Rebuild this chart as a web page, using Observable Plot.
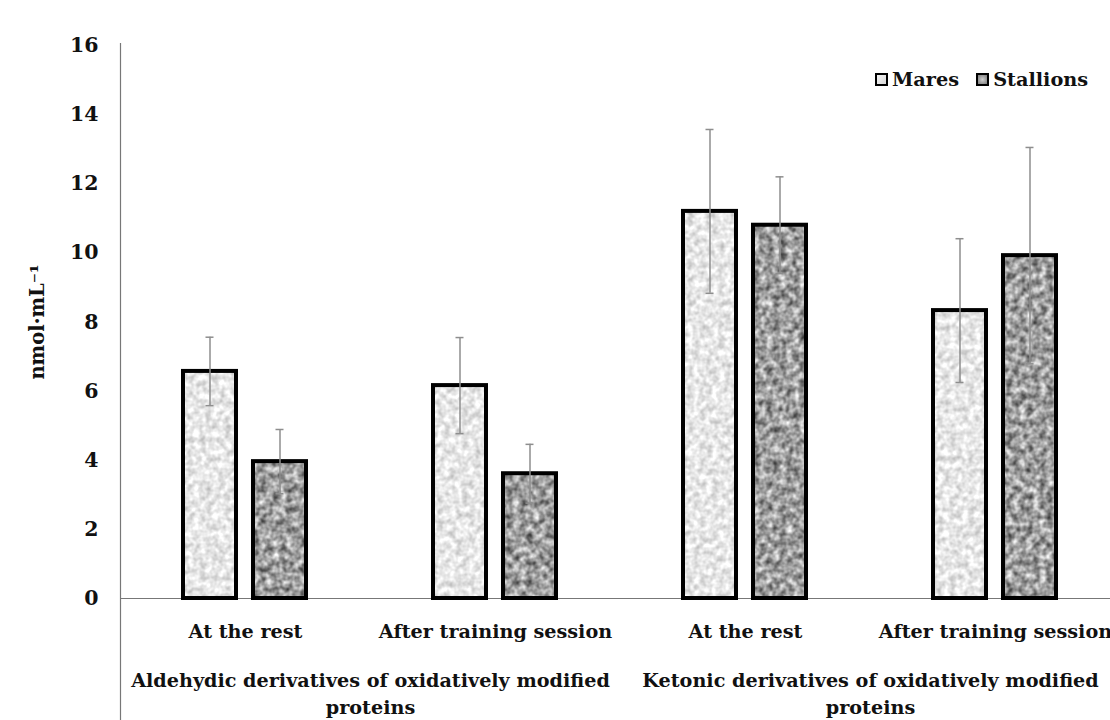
<!DOCTYPE html>
<html>
<head>
<meta charset="utf-8">
<script src="https://cdn.jsdelivr.net/npm/d3@7"></script>
<script src="https://cdn.jsdelivr.net/npm/@observablehq/plot@0.6"></script>
<style>
  body { margin: 0; background: #fff; }
  #wrap { position: relative; width: 1110px; height: 720px; overflow: hidden; background: #fff; }
  #legend { position: absolute; top: 68px; left: 875px; font: bold 19.3px "DejaVu Serif", serif; color: #111;
            display: flex; align-items: center; white-space: nowrap; }
  #legend .item { display: flex; align-items: center; margin-right: 17px; }
  #legend .sw { display: inline-block; width: 9px; height: 9px; border: 2.5px solid #000; margin-right: 4px; }
  #legend .m { background: linear-gradient(135deg, #f4f4f4, #d8d8d8); }
  #legend .s { background: radial-gradient(circle, #d0d0d0, #7a7a7a); }
</style>
</head>
<body>
<svg width="0" height="0" style="position:absolute" aria-hidden="true">
  <defs>
    <filter id="noiseLight" x="0" y="0" width="1" height="1" color-interpolation-filters="sRGB">
      <feTurbulence type="fractalNoise" baseFrequency="0.16" numOctaves="2" seed="4"/>
      <feColorMatrix type="matrix" values="0.45 0 0 0 0.68  0.45 0 0 0 0.68  0.45 0 0 0 0.68  0 0 0 0 1"/>
    </filter>
    <filter id="noiseDark" x="0" y="0" width="1" height="1" color-interpolation-filters="sRGB">
      <feTurbulence type="fractalNoise" baseFrequency="0.15" numOctaves="2" seed="9"/>
      <feColorMatrix type="matrix" values="1.0 0 0 0 0.12  1.0 0 0 0 0.12  1.0 0 0 0 0.12  0 0 0 0 1"/>
    </filter>
    <pattern id="patMares" patternUnits="userSpaceOnUse" x="0" y="0" width="1120" height="720">
      <rect width="1120" height="720" filter="url(#noiseLight)"/>
    </pattern>
    <pattern id="patStallions" patternUnits="userSpaceOnUse" x="0" y="0" width="1120" height="720">
      <rect width="1120" height="720" filter="url(#noiseDark)"/>
    </pattern>
  </defs>
</svg>
<div id="wrap">
  <div id="chart"></div>
  <div id="legend">
    <span class="item"><span class="sw m"></span>Mares</span>
    <span class="item"><span class="sw s"></span>Stallions</span>
  </div>
</div>
<script>
// ---- data ----
const groups = [
  "Aldehydic derivatives of oxidatively modified\nproteins",
  "Ketonic derivatives of oxidatively modified\nproteins"
];
const conditions = ["At the rest", "After training session"];
const seriesNames = ["Mares", "Stallions"];
const maresMean = [6.57, 6.16, 11.2, 8.33];
const maresSD = [0.99, 1.39, 2.37, 2.08];
const stallionsMean = [3.96, 3.61, 10.8, 9.92];
const stallionsSD = [0.93, 0.85, 1.40, 3.13];
const yTicks = [0, 2, 4, 6, 8, 10, 12, 14, 16];
const yLabel = "nmol·mL⁻¹";

// ---- tables ----
const keys = groups.flatMap((g, gi) => conditions.map((c, ci) => `${gi}|${ci}`));
const condOf = k => conditions[+k.split("|")[1]];
const mares = keys.map((k, i) => ({key: k, series: seriesNames[0], value: maresMean[i], sd: maresSD[i]}));
const stallions = keys.map((k, i) => ({key: k, series: seriesNames[1], value: stallionsMean[i], sd: stallionsSD[i]}));
const groupStarts = groups.map((g, gi) => ({key: `${gi}|0`, label: g}));

const errStyle = {stroke: "#8e8e8e", strokeWidth: 1.5};
function errorBars(data, dx, capL, capR) {
  return [
    Plot.ruleX(data, {x: "key", y1: d => d.value - d.sd, y2: d => d.value + d.sd, dx, ...errStyle}),
    Plot.tickY(data, {x: "key", y: d => d.value + d.sd, insetLeft: capL, insetRight: capR, ...errStyle}),
    Plot.tickY(data, {x: "key", y: d => d.value - d.sd, insetLeft: capL, insetRight: capR, ...errStyle})
  ];
}

const chart = Plot.plot({
  width: 1110,
  height: 720,
  marginLeft: 120,
  marginRight: 0,
  marginTop: 43,
  marginBottom: 0,
  style: {fontFamily: "'DejaVu Serif', serif", fontSize: "19.2px", fontWeight: "bold", color: "#111", background: "#fff"},
  x: {domain: keys, range: [120, 1120], padding: 0, axis: null},
  y: {domain: [0, 16], range: [598, 45], axis: null},
  marks: [
    Plot.frame({anchor: "left", stroke: "#777", strokeWidth: 1.2}),
    Plot.ruleX(groupStarts.slice(1), {x: "key", dx: -125, y1: 0, stroke: "#777", strokeWidth: 1.2}),
    Plot.ruleY([0], {stroke: "#777", strokeWidth: 1.2}),
    Plot.barY(mares, {x: "key", y: "value", fill: "url(#patMares)", stroke: "#000", strokeWidth: 4, insetLeft: 63, insetRight: 134}),
    Plot.barY(stallions, {x: "key", y: "value", fill: "url(#patStallions)", stroke: "#000", strokeWidth: 4, insetLeft: 133, insetRight: 64}),
    ...errorBars(mares, -35.5, 85.5, 156.5),
    ...errorBars(stallions, 34.5, 155.5, 86.5),
    Plot.axisY({ticks: yTicks, tickSize: 0, tickPadding: 22, label: null, fontSize: 20.5}),
    Plot.text([yLabel], {frameAnchor: "left", text: d => d, rotate: -90, textAnchor: "middle", dx: -83, dy: -60, fontSize: 19.5}),
    Plot.text(keys, {x: d => d, y: 0, text: d => condOf(d), dy: 33, fill: "#111"}),
    Plot.text(groupStarts, {x: "key", y: 0, text: "label", dx: 125, dy: 93, lineHeight: 1.45, fill: "#111"})
  ]
});
document.getElementById("chart").appendChild(chart);
</script>
</body>
</html>
